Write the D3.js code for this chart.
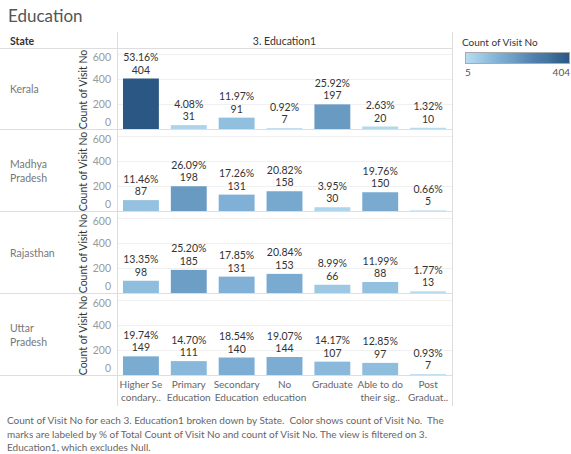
<!DOCTYPE html>
<html><head><meta charset="utf-8">
<script src="https://cdn.jsdelivr.net/npm/d3@7"></script>
<style>
body{margin:0;background:#fff;}
svg text{font-family:Lato,"Open Sans",sans-serif;}
</style></head>
<body><svg id="c" width="571" height="454"></svg>
<script>
const states = ["Kerala", "Madhya Pradesh", "Rajasthan", "Uttar Pradesh"];
const stateLines = [["Kerala"], ["Madhya", "Pradesh"], ["Rajasthan"], ["Uttar", "Pradesh"]];
const categories = ["Higher Secondary", "Primary Education", "Secondary Education", "No education", "Graduate", "Able to do their signature", "Post Graduate"];
const categoryLabels = [["Higher Se", "condary.."], ["Primary", "Education"], ["Secondary", "Education"], ["No", "education"], ["Graduate"], ["Able to do", "their sig.."], ["Post", "Graduat.."]];
const keralaCounts = [404, 31, 91, 7, 197, 20, 10];
const keralaPct = ["53.16%", "4.08%", "11.97%", "0.92%", "25.92%", "2.63%", "1.32%"];
const madhyaCounts = [87, 198, 131, 158, 30, 150, 5];
const madhyaPct = ["11.46%", "26.09%", "17.26%", "20.82%", "3.95%", "19.76%", "0.66%"];
const rajasthanCounts = [98, 185, 131, 153, 66, 88, 13];
const rajasthanPct = ["13.35%", "25.20%", "17.85%", "20.84%", "8.99%", "11.99%", "1.77%"];
const upCounts = [149, 111, 140, 144, 107, 97, 7];
const upPct = ["19.74%", "14.70%", "18.54%", "19.07%", "14.17%", "12.85%", "0.93%"];
const yTicks = [0, 200, 400, 600];
const colorRange = [5, 404];

const counts = [keralaCounts, madhyaCounts, rajasthanCounts, upCounts];
const pcts = [keralaPct, madhyaPct, rajasthanPct, upPct];

const svg = d3.select("#c");
const defs = svg.append("defs");
const left = 117, right = 452, headerY = 48, rowH = 82, rowInner = 81;

const blues = ["#b9ddf1","#afd6ed","#a5cfe9","#9bc7e4","#92c0df","#89b8da","#80b0d5","#79aacf","#72a3c9","#6a9bc3","#6394be","#5b8cb8","#5485b2","#4e7fac","#4878a6","#437a9f","#3d6a98","#376491","#305d8a","#2a5783"];
const interp = d3.interpolateRgbBasis(blues);
const color = d3.scaleSequential(interp).domain(colorRange);

const x = d3.scaleBand().domain(categories).range([left, right]).paddingInner(0.25).paddingOuter(0.125);

// Title
svg.append("text").attr("x", 8).attr("y", 22).attr("font-size", 17).attr("fill", "#555").text("Education");

// header
svg.append("text").attr("x", 10).attr("y", 45).attr("font-size", 10.5).attr("font-weight", 700).attr("fill", "#333").text("State");
svg.append("text").attr("x", (left + right) / 2).attr("y", 45).attr("text-anchor", "middle").attr("font-size", 10.5).attr("fill", "#333").text("3. Education1");

states.forEach((s, i) => {
  const top = headerY + i * rowH;
  const base = top + rowInner;
  const y = d3.scaleLinear().domain([0, 648]).range([base, top]);
  const g = svg.append("g");
  // gridlines
  g.selectAll("line.grid").data(yTicks.slice(1)).join("line")
    .attr("x1", left).attr("x2", right).attr("y1", d => Math.round(y(d)) + 0.5).attr("y2", d => Math.round(y(d)) + 0.5)
    .attr("stroke", "#f0f0f0").attr("stroke-width", 1);
  // axis
  const ax = g.append("g").attr("transform", `translate(${left},0)`)
    .call(d3.axisLeft(y).tickValues(yTicks).tickSize(0).tickPadding(6));
  ax.select(".domain").remove();
  ax.selectAll("text").attr("font-size", 10.5).attr("fill", "#999").attr("font-family", 'Lato,sans-serif')
    .attr("dy", d => d === 0 ? "-0.3em" : (d === 600 ? "0.6em" : "0.32em"));
  // axis title (clipped to the row)
  const clipId = "clip" + i;
  defs.append("clipPath").attr("id", clipId).append("rect").attr("x", 60).attr("y", top + 1).attr("width", 40).attr("height", rowInner);
  g.append("g").attr("clip-path", `url(#${clipId})`)
    .append("text")
    .attr("transform", `translate(87,${top + rowInner / 2 + 1}) rotate(-90)`)
    .attr("text-anchor", "middle").attr("font-size", 10.5).attr("fill", "#333").text("Count of Visit No");
  // state label
  g.selectAll("text.st").data(stateLines[i]).join("text")
    .attr("x", 10).attr("y", (d, k) => top + 45 - (stateLines[i].length - 1) * 7 + k * 14)
    .attr("font-size", 10.5).attr("fill", "#777").text(d => d);
  // bars
  const data = categories.map((c, k) => ({c, v: counts[i][k], p: pcts[i][k]}));
  g.selectAll("rect.bar").data(data).join("rect")
    .attr("x", d => x(d.c)).attr("width", x.bandwidth())
    .attr("y", d => y(d.v)).attr("height", d => base - y(d.v))
    .attr("fill", d => color(d.v));
  g.selectAll("text.cnt").data(data).join("text")
    .attr("x", d => x(d.c) + x.bandwidth() / 2).attr("y", d => y(d.v) - 5)
    .attr("text-anchor", "middle").attr("font-size", 10.5).attr("fill", "#333").text(d => d.v);
  g.selectAll("text.pct").data(data).join("text")
    .attr("x", d => x(d.c) + x.bandwidth() / 2).attr("y", d => y(d.v) - 17.5)
    .attr("text-anchor", "middle").attr("font-size", 10.5).attr("fill", "#333").text(d => d.p);
  // row separator
  svg.append("line").attr("x1", 0).attr("x2", right).attr("y1", base + 0.5).attr("y2", base + 0.5).attr("stroke", "#ddd");
});

// header line and borders
svg.append("line").attr("x1", 0).attr("x2", right).attr("y1", headerY + 0.5).attr("y2", headerY + 0.5).attr("stroke", "#ddd");
svg.append("line").attr("x1", left + 0.5).attr("x2", left + 0.5).attr("y1", 32).attr("y2", 406).attr("stroke", "#ddd");
svg.append("line").attr("x1", right + 0.5).attr("x2", right + 0.5).attr("y1", 32).attr("y2", 406).attr("stroke", "#ddd");

// category labels
const lastBase = headerY + 3 * rowH + rowInner;
categoryLabels.forEach((lines, k) => {
  lines.forEach((t, j) => {
    svg.append("text").attr("x", x(categories[k]) + x.bandwidth() / 2).attr("y", lastBase + 13 + j * 12.7)
      .attr("text-anchor", "middle").attr("font-size", 10).attr("fill", "#666").text(t);
  });
});

// legend
svg.append("text").attr("x", 462).attr("y", 46).attr("font-size", 10).attr("fill", "#333").text("Count of Visit No");
const grad = defs.append("linearGradient").attr("id", "lg");
d3.range(0, 1.0001, 0.05).forEach(t => grad.append("stop").attr("offset", t).attr("stop-color", interp(t)));
svg.append("rect").attr("x", 465.5).attr("y", 52.5).attr("width", 104).attr("height", 11).attr("fill", "url(#lg)").attr("stroke", "#aaa");
svg.append("text").attr("x", 465).attr("y", 76).attr("font-size", 10).attr("fill", "#555").text(colorRange[0]);
svg.append("text").attr("x", 570).attr("y", 76).attr("text-anchor", "end").attr("font-size", 10).attr("fill", "#555").text(colorRange[1]);

// footer
const footer = ["Count of Visit No for each 3. Education1 broken down by State.  Color shows count of Visit No.  The",
  "marks are labeled by % of Total Count of Visit No and count of Visit No. The view is filtered on 3.",
  "Education1, which excludes Null."];
footer.forEach((t, j) => svg.append("text").attr("x", 7).attr("y", 424 + j * 13.5).attr("font-size", 10).attr("fill", "#666").style("white-space", "pre").text(t));
</script></body></html>
